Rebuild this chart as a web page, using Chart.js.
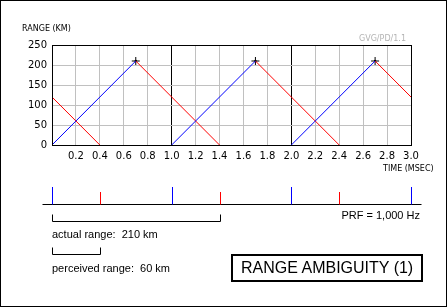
<!DOCTYPE html>
<html>
<head>
<meta charset="utf-8">
<script src="https://cdn.jsdelivr.net/npm/chart.js@4.4.1/dist/chart.umd.min.js"></script>
<style>
  body { margin: 0; background: #fff; }
  #wrap { position: relative; width: 448px; height: 307px; }
  #rangeChart { position: absolute; left: 0; top: 0; }
  #frame { position: absolute; left: 0; top: 0; width: 447px; height: 307px; box-sizing: border-box; border: 1px solid #000; pointer-events: none; }
  .lbl { position: absolute; white-space: pre; line-height: 1; color: #000; }
  .axis { font-family: 'DejaVu Sans', sans-serif; font-size: 8px; }
  .note { font-family: 'Liberation Sans', Arial, sans-serif; font-size: 11px; line-height: 11px; }
  #box { position: absolute; left: 231px; top: 254px; width: 192px; height: 28px; box-sizing: border-box;
         border: 2px solid #000; display: flex; align-items: center; padding-left: 8px;
         font-family: 'Liberation Sans', Arial, sans-serif; font-size: 16px; white-space: nowrap; }
</style>
</head>
<body>
<div id="wrap">
  <canvas id="rangeChart" width="448" height="307"></canvas>
  <div class="lbl axis" style="left:22px; top:25px;">RANGE (KM)</div>
  <div class="lbl axis" style="left:383px; top:165px;">TIME (MSEC)</div>
  <div class="lbl axis" style="left:359px; top:35px; color:#b4b4b4;">GVG/PD/1.1</div>
  <div class="lbl note" style="right:28px; top:210px;">PRF = 1,000 Hz</div>
  <div class="lbl note" style="left:52px; top:229px;">actual range:  210 km</div>
  <div class="lbl note" style="left:52px; top:263px;">perceived range:  60 km</div>
  <div id="box">RANGE AMBIGUITY (1)</div>
  <div id="frame"></div>
</div>
<script>
'use strict';

// data (time in msec, range in km)
let transmitX = [0, 0.7, 0.7, 1.0, 1.7, 1.7, 2.0, 2.7];
let transmitY = [0, 210, null, 0, 210, null, 0, 210];
let echoX = [0, 0.4, 0.4, 0.7, 1.4, 1.4, 1.7, 2.4, 2.4, 2.7, 3.0];
let echoY = [120, 0, null, 210, 0, null, 210, 0, null, 210, 120];
let peakX = [0.7, 1.7, 2.7];
let peakY = [210, 210, 210];

// pulse timeline below the chart
let pulseTimes = [0, 1, 2, 3];
let echoTimes = [0.4, 1.4, 2.4];
let actualSpan = [0, 1.4];
let perceivedSpan = [0, 0.4];

function toPoints(xs, ys) {
  let pts = [];
  for (let i = 0; i < xs.length; i++) {
    pts.push({ x: xs[i], y: ys[i] });
  }
  return pts;
}

// frame round the plot + timeline and brackets under it
let extras = {
  id: 'extras',
  afterDatasetsDraw(chart) {
    let ctx = chart.ctx;
    let a = chart.chartArea;
    ctx.save();
    ctx.strokeStyle = '#000';
    ctx.lineWidth = 1;
    ctx.strokeRect(Math.round(a.left) + 0.5, Math.round(a.top) + 0.5,
      Math.round(a.right - a.left), Math.round(a.bottom - a.top));
    ctx.restore();
  },
  afterDraw(chart) {
    let ctx = chart.ctx;
    let xs = chart.scales.x;
    let px = v => Math.round(xs.getPixelForValue(v)) + 0.5;
    let lineY = 204.5;
    ctx.save();
    ctx.lineWidth = 1;

    ctx.strokeStyle = '#000';
    ctx.beginPath();
    ctx.moveTo(px(0) - 10, lineY);
    ctx.lineTo(px(3) + 10, lineY);
    ctx.stroke();

    ctx.strokeStyle = '#0000ff';
    pulseTimes.forEach(t => {
      ctx.beginPath();
      ctx.moveTo(px(t), 187);
      ctx.lineTo(px(t), lineY);
      ctx.stroke();
    });
    ctx.strokeStyle = '#ff0000';
    echoTimes.forEach(t => {
      ctx.beginPath();
      ctx.moveTo(px(t), 192);
      ctx.lineTo(px(t), lineY);
      ctx.stroke();
    });

    ctx.strokeStyle = '#000';
    let bracket = (span, y) => {
      ctx.beginPath();
      ctx.moveTo(px(span[0]), y - 7);
      ctx.lineTo(px(span[0]), y);
      ctx.lineTo(px(span[1]), y);
      ctx.lineTo(px(span[1]), y - 7);
      ctx.stroke();
    };
    bracket(actualSpan, 221.5);
    bracket(perceivedSpan, 254.5);
    ctx.restore();
  }
};

function isPulse(v) {
  return Math.abs(v - 1) < 1e-6 || Math.abs(v - 2) < 1e-6;
}

let config = {
  type: 'line',
  data: {
    datasets: [{
      data: toPoints(transmitX, transmitY),
      borderColor: '#0000ff',
      borderWidth: 1,
      pointRadius: 0,
      spanGaps: false
    },
    {
      data: toPoints(echoX, echoY),
      borderColor: '#ff0000',
      borderWidth: 1,
      pointRadius: 0,
      spanGaps: false
    },
    {
      data: toPoints(peakX, peakY),
      showLine: false,
      pointStyle: 'cross',
      pointRadius: 4,
      pointBorderWidth: 1,
      pointBorderColor: '#000'
    },
    {
      data: toPoints(peakX, peakY),
      showLine: false,
      pointStyle: 'rect',
      pointRadius: 1.5,
      pointBorderWidth: 0,
      pointBackgroundColor: '#000'
    }]
  },
  options: {
    responsive: false,
    animation: false,
    layout: { padding: { left: 0, top: 45, right: 37, bottom: 142 } },
    plugins: {
      legend: { display: false },
      tooltip: { enabled: false }
    },
    scales: {
      x: {
        type: 'linear',
        min: 0,
        max: 3,
        afterFit: s => { s.height = 20; },
        border: { display: false },
        grid: {
          drawTicks: false,
          color: c => isPulse(c.tick.value) ? '#000' : '#c0c0c0'
        },
        ticks: {
          stepSize: 0.2,
          autoSkip: false,
          maxRotation: 0,
          padding: 5,
          color: '#000',
          font: { family: 'DejaVu Sans', size: 10 },
          callback: v => v === 0 ? '' : v.toFixed(1)
        }
      },
      y: {
        min: 0,
        max: 250,
        afterFit: s => { s.width = 52; },
        border: { display: false },
        grid: { drawTicks: false, color: '#c0c0c0' },
        ticks: {
          stepSize: 50,
          padding: 5,
          color: '#000',
          font: { family: 'DejaVu Sans', size: 10 }
        }
      }
    }
  },
  plugins: [extras]
};

const ctx = document.getElementById('rangeChart').getContext('2d');
const rangeChart = new Chart(ctx, config);
</script>
</body>
</html>
